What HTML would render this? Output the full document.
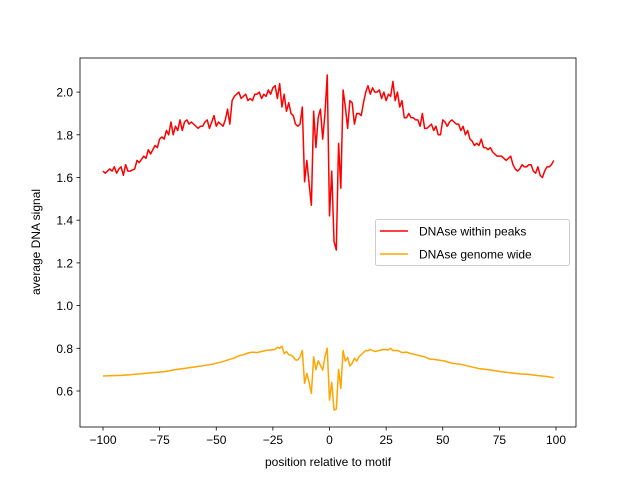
<!DOCTYPE html>
<html><head><meta charset="utf-8"><style>
body{margin:0;background:#fff}
svg text{font-family:"Liberation Sans",sans-serif;font-size:12px;fill:#000}
</style></head><body>
<svg id="chart" width="640" height="480" xmlns="http://www.w3.org/2000/svg">
<rect width="640" height="480" fill="#fff"/>
<g id="plot"></g>
</svg>
<script>
const redX=[-100,-99,-98,-97,-96,-95,-94,-93,-92,-91,-90,-89,-88,-86,-85,-84,-82,-81,-80,-79,-77,-76,-75,-74,-73,-72,-71,-70,-69,-68,-67,-66,-65,-64,-63,-62,-61,-60,-59,-58,-57,-56,-55,-54,-53,-52,-51,-50,-49,-48,-47,-46,-45,-44,-43,-42,-41,-40,-39,-38,-37,-36,-35,-34,-33,-32,-31,-30,-29,-28,-27,-26,-25,-24,-23,-22,-21,-20,-19,-18,-17,-16,-15,-14,-13,-12,-11,-10,-9,-8,-7,-6,-5,-4,-3,-2,-1,0,1,2,3,4,5,6,7,8,9,10,11,12,13,14,15,16,17,18,19,20,21,22,23,24,25,26,27,28,29,30,31,32,33,34,35,36,37,38,39,40,41,42,43,44,45,46,47,48,49,50,51,52,53,54,55,56,57,58,59,60,61,62,63,64,65,66,67,68,69,70,71,72,74,76,77,78,80,81,82,83,84,85,86,87,88,89,90,91,92,93,94,95,96,97,98,99];
const redY=[1.63,1.62,1.63,1.64,1.63,1.65,1.62,1.64,1.65,1.61,1.66,1.63,1.63,1.64,1.68,1.67,1.70,1.69,1.73,1.71,1.75,1.74,1.78,1.79,1.78,1.82,1.80,1.86,1.80,1.84,1.82,1.87,1.82,1.86,1.87,1.85,1.86,1.85,1.84,1.83,1.84,1.84,1.86,1.87,1.83,1.86,1.89,1.84,1.86,1.85,1.84,1.87,1.92,1.85,1.96,1.98,1.99,2.00,1.97,1.98,1.99,1.96,1.97,1.96,1.99,1.99,2.00,1.97,1.99,1.98,2.01,1.99,2.02,2.03,1.97,2.04,1.93,1.99,1.91,1.95,1.90,1.89,1.85,1.84,1.85,1.93,1.58,1.68,1.57,1.47,1.91,1.74,1.88,1.92,1.78,1.90,2.08,1.42,1.63,1.30,1.26,1.76,1.55,2.01,1.93,1.83,1.96,1.95,1.85,1.90,1.90,1.89,1.95,2.00,2.03,1.99,2.02,2.00,2.00,2.01,1.97,2.00,1.96,1.99,1.98,2.05,1.96,2.00,1.93,1.96,1.88,1.88,1.90,1.88,1.88,1.87,1.87,1.84,1.90,1.83,1.83,1.84,1.85,1.82,1.84,1.80,1.80,1.87,1.86,1.84,1.86,1.87,1.86,1.85,1.85,1.82,1.84,1.80,1.82,1.78,1.77,1.75,1.76,1.75,1.78,1.74,1.74,1.73,1.74,1.72,1.70,1.70,1.69,1.68,1.70,1.66,1.64,1.63,1.64,1.66,1.65,1.65,1.66,1.66,1.63,1.62,1.65,1.61,1.60,1.63,1.65,1.65,1.66,1.68];
const orangeX=[-100,-96,-92,-88,-84,-80,-76,-72,-68,-64,-60,-56,-52,-48,-45,-42,-40,-38,-36,-34,-32,-30,-28,-26,-24,-23,-22,-21,-20,-19,-18,-17,-16,-15,-14,-13,-12,-11,-10,-9,-8,-7,-6,-5,-4,-3,-2,-1,0,1,2,3,4,5,6,7,8,9,10,11,12,13,14,15,16,17,18,20,22,24,26,27,28,30,32,34,36,38,40,42,44,46,48,51,54,58,62,66,70,73,76,80,84,88,92,96,99];
const orangeY=[.670,.672,.673,.676,.680,.684,.688,.692,.700,.706,.712,.718,.725,.735,.745,.755,.765,.770,.778,.782,.780,.785,.790,.792,.795,.805,.800,.810,.775,.785,.770,.768,.760,.745,.745,.760,.790,.636,.682,.640,.589,.760,.700,.741,.720,.698,.760,.800,.557,.640,.511,.515,.700,.612,.790,.740,.757,.717,.730,.753,.740,.760,.770,.780,.790,.788,.795,.785,.790,.795,.792,.800,.790,.790,.780,.782,.775,.770,.765,.760,.750,.748,.745,.740,.730,.725,.715,.705,.700,.695,.690,.685,.680,.678,.672,.668,.662];
const xTicks=[-100,-75,-50,-25,0,25,50,75,100];
const yTicks=[0.6,0.8,1.0,1.2,1.4,1.6,1.8,2.0];
const seriesNames=["DNAse within peaks","DNAse genome wide"];

const L=80,R=576,T=58,B=427;
const sx=x=>329.5+x*2.265;
const sy=v=>391-(v-0.6)*213.5;
const NS="http://www.w3.org/2000/svg";
const g=document.getElementById('plot');
function mk(tag,attrs,parent){const e=document.createElementNS(NS,tag);for(const k in attrs)e.setAttribute(k,attrs[k]);(parent||g).appendChild(e);return e;}

function line(xs,ys,color,name){
  const d=xs.map((x,i)=>(i?'L':'M')+sx(x).toFixed(2)+','+sy(ys[i]).toFixed(2)).join('');
  const p=mk('path',{d:d,fill:'none',stroke:color,'stroke-width':1.5,'stroke-linejoin':'round'});
  
  
}
line(redX,redY,'#ff0000','series-within-peaks');
line(orangeX,orangeY,'#ffa500','series-genome-wide');

const frame=mk('rect',{x:L,y:T,width:R-L,height:B-T,fill:'none',stroke:'#000','stroke-width':0.8});



xTicks.forEach(t=>{
  const x=sx(t);
  mk('line',{x1:x,x2:x,y1:B,y2:B+3.5,stroke:'#000','stroke-width':0.8});
  const tx=mk('text',{x:x,y:B+17,'text-anchor':'middle'});
  tx.textContent=String(t).replace('-','\u2212');
  
  
});
yTicks.forEach(t=>{
  const y=sy(t);
  mk('line',{x1:L-3.5,x2:L,y1:y,y2:y,stroke:'#000','stroke-width':0.8});
  const tx=mk('text',{x:L-7,y:y+4.5,'text-anchor':'end'});
  tx.textContent=t.toFixed(1);
  
  
});
const xl=mk('text',{x:328,y:466,'text-anchor':'middle'});
xl.textContent='position relative to motif';


const yl=mk('text',{x:0,y:0,'text-anchor':'middle',transform:'translate(40,242) rotate(-90)'});
yl.textContent='average DNA signal';



const lg=mk('g',{});


mk('rect',{x:375.5,y:219.5,width:194,height:46,rx:2,fill:'#fff','fill-opacity':0.8,stroke:'#ccc'},lg);
[['#ff0000',231],['#ffa500',254]].forEach((c,i)=>{
  const e=mk('g',{},lg);
  
  
  mk('line',{x1:380,x2:408,y1:c[1],y2:c[1],stroke:c[0],'stroke-width':1.5},e);
  const t=mk('text',{x:419,y:c[1]+4.5},e);
  t.textContent=seriesNames[i];
});
</script>
</body></html>
